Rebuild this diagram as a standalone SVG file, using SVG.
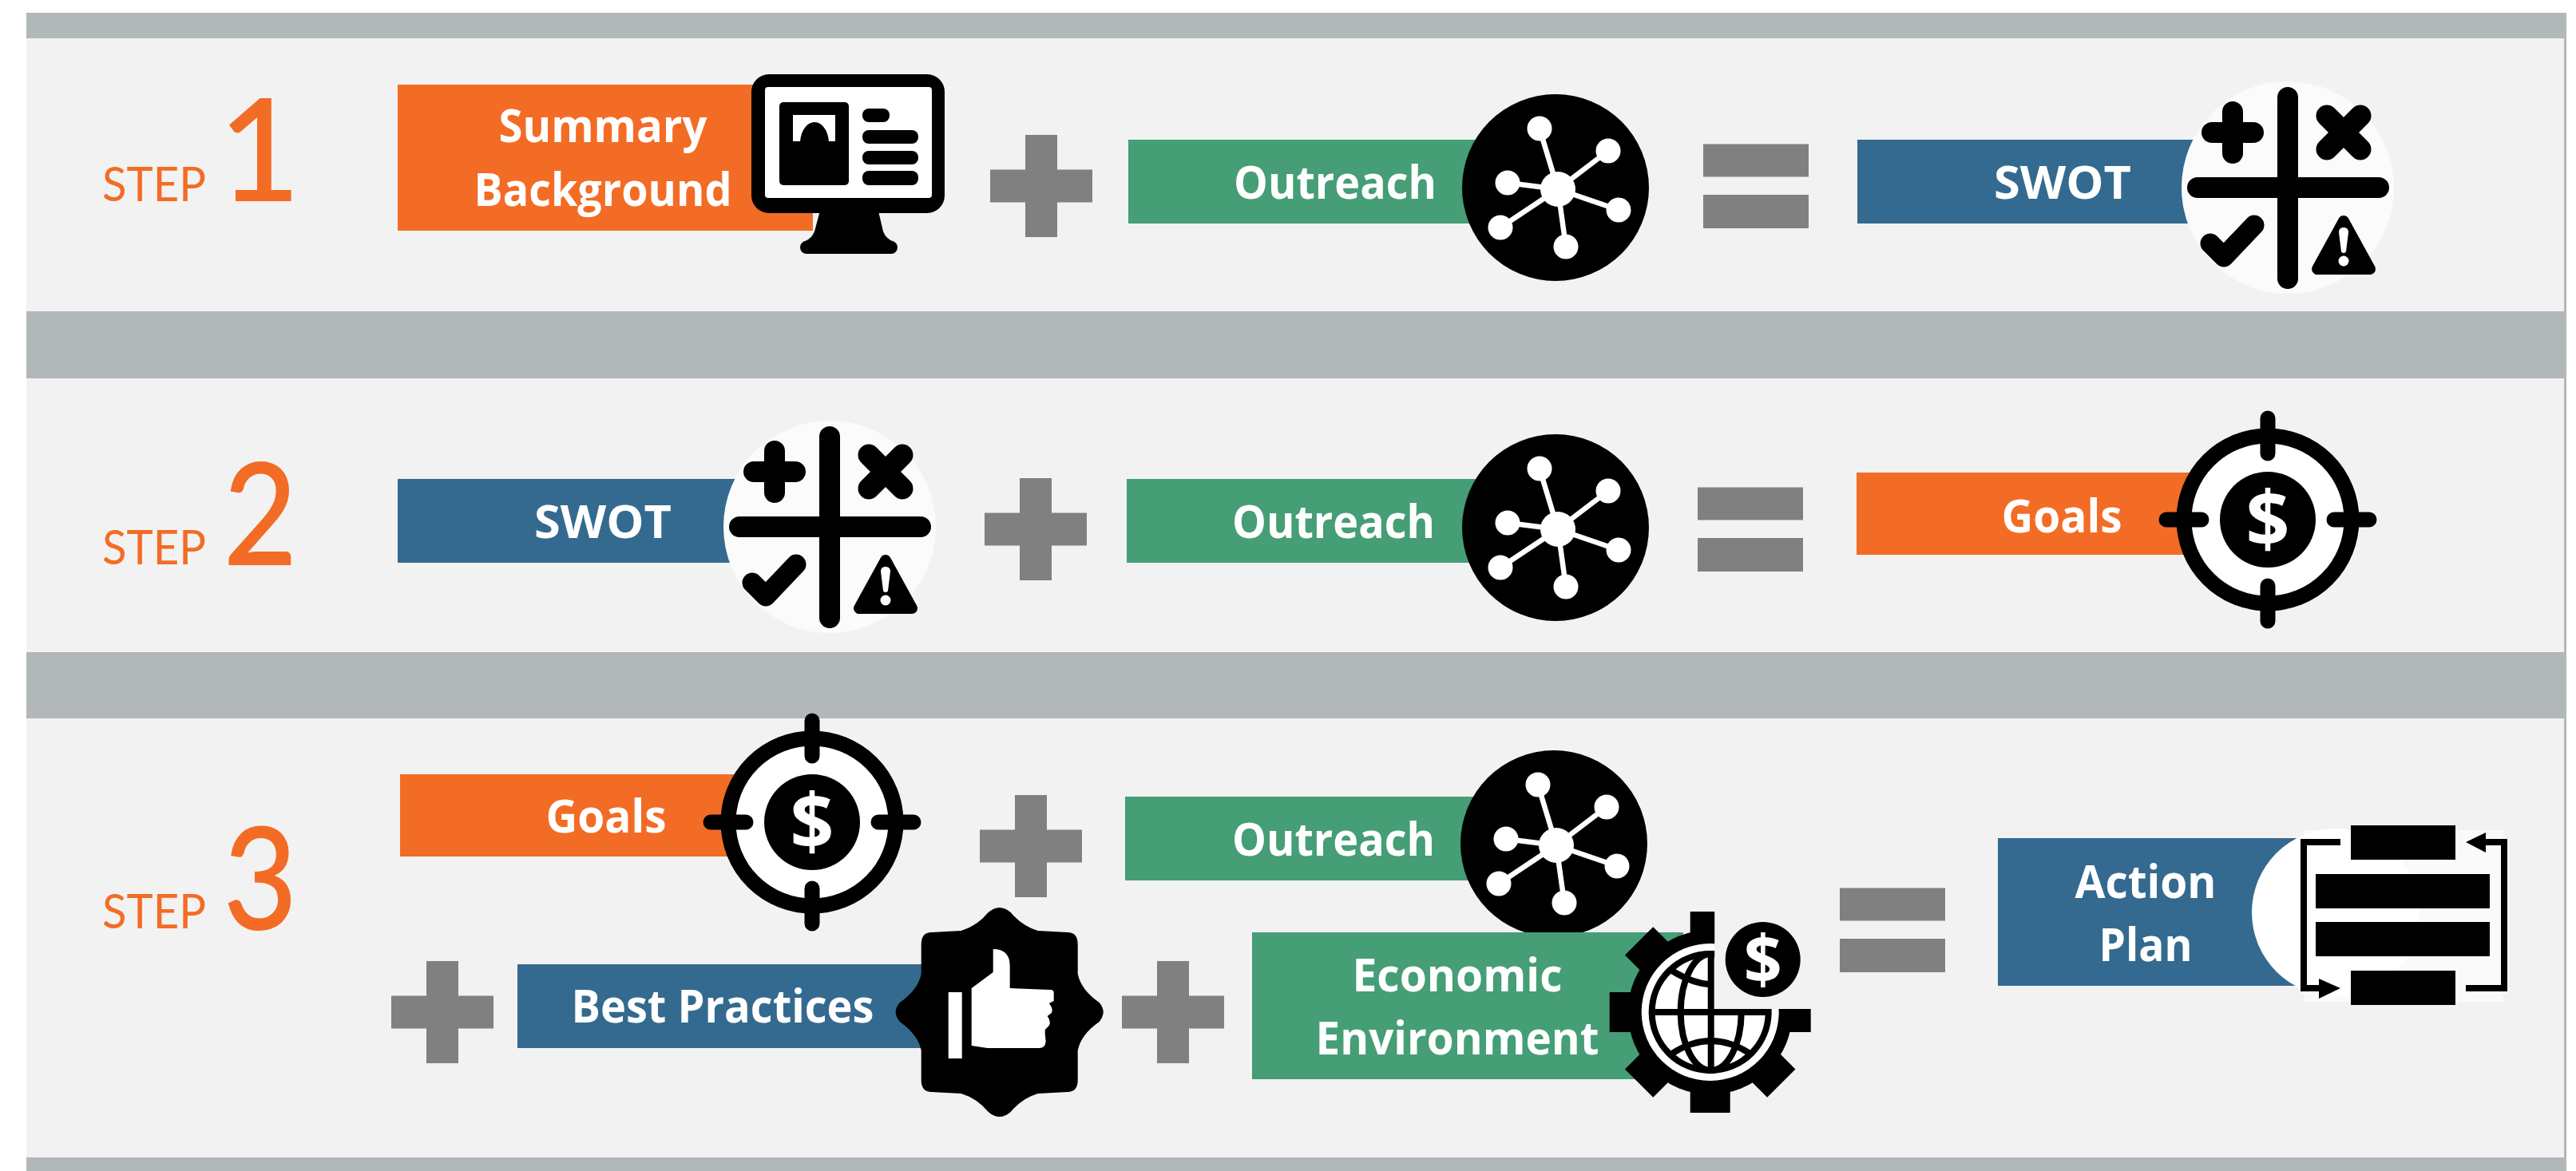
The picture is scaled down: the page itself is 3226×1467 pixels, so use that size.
<svg xmlns="http://www.w3.org/2000/svg" xmlns:xlink="http://www.w3.org/1999/xlink" width="3226" height="1467" viewBox="0 0 3226 1467">
<style>
.band{fill:#b2b7ba}.panel{fill:#f2f2f2}.op{fill:#808080}
.or{fill:#f36c25}.gr{fill:#459e75}.bl{fill:#346a8f}
.lab{font-family:"Open Sans","Liberation Sans",sans-serif;font-weight:700;font-size:58px;fill:#fff;text-anchor:middle}
.st{font-family:Lato,"Liberation Sans",sans-serif;font-size:60px;fill:#f36c25}
.num{font-family:Lato,"Liberation Sans",sans-serif;font-size:176px;fill:#f36c25;stroke:#f36c25;stroke-width:2}
.dollar{font-family:"Open Sans","Liberation Sans",sans-serif;font-weight:700;fill:#fff;text-anchor:middle}
.k{stroke:#000;fill:none}.w{stroke:#fff;fill:none}
</style>
<defs>
<g id="plus"><rect x="-64" y="-20.500" width="128" height="41"/><rect x="-20" y="-64" width="40" height="128"/></g>
<g id="equals"><rect x="-66" y="-52.500" width="132" height="41"/><rect x="-66" y="11" width="132" height="42"/></g>
<g id="net">
<circle r="117" fill="#000"/>
<g class="w" stroke-width="6.500"><path d="M3,2L-20,-74M3,2L66,-46M3,2L-60,-6M3,2L79,28M3,2L-69,50M3,2L13,74"/></g>
<g fill="#fff"><circle cx="3" cy="2" r="22"/><circle cx="-20" cy="-74" r="15.500"/><circle cx="66" cy="-46" r="15.500"/><circle cx="-60" cy="-6" r="15.500"/><circle cx="79" cy="28" r="15.500"/><circle cx="-69" cy="50" r="15.500"/><circle cx="13" cy="74" r="15.500"/></g>
</g>
<g id="swot">
<circle r="133" fill="#fbfbfb"/>
<g class="k" stroke-linecap="round" stroke-linejoin="round">
<path stroke-width="26" d="M0,-113V114M-113,0H114"/>
<path stroke-width="26" d="M-95,-69H-43M-69,-95V-43"/>
<path stroke-width="27" d="M49,-90L91,-48M91,-90L49,-48"/>
<path stroke-width="25" d="M-97,70L-80,87L-42,47"/>
</g>
<path d="M70,42L37,102H103Z" fill="#000" stroke="#000" stroke-width="14" stroke-linejoin="round"/>
<path d="M70,50c3.500,0 6,2 6,6l-3,24c-.4,2.500-5.600,2.500-6,0l-3,-24c0,-4 2.500,-6 6,-6Z" fill="#fff"/>
<circle cx="70" cy="92" r="6.500" fill="#fff"/>
</g>
<g id="target">
<circle r="105" fill="#fff" stroke="#000" stroke-width="19"/>
<circle r="60" fill="#000"/>
<path class="k" stroke-width="19" stroke-linecap="round" d="M-127,0H-83M83,0H127M0,-127V-83M0,83V127"/>
<text class="dollar" y="34" font-size="96">$</text>
</g>
</defs>

<g id="background">
<rect x="33" y="16" width="3181" height="1451" class="band"/>
<rect x="33" y="48" width="3178" height="342" class="panel"/>
<rect x="33" y="474" width="3178" height="343" class="panel"/>
<rect x="33" y="900" width="3178" height="550" class="panel"/>
</g>

<g id="step-1">
<text class="st" x="128" y="252" textLength="130" lengthAdjust="spacingAndGlyphs">STEP</text><text class="num" x="274" y="251">1</text>
</g>
<g id="step-2">
<text class="st" x="128" y="707" textLength="130" lengthAdjust="spacingAndGlyphs">STEP</text><text class="num" x="280" y="707" textLength="92" lengthAdjust="spacingAndGlyphs">2</text>
</g>
<g id="step-3">
<text class="st" x="128" y="1163" textLength="130" lengthAdjust="spacingAndGlyphs">STEP</text><text class="num" x="280" y="1164" textLength="92" lengthAdjust="spacingAndGlyphs">3</text>
</g>

<g id="operators" class="op">
<use xlink:href="#plus" href="#plus" x="1304" y="233"/>
<use xlink:href="#equals" href="#equals" x="2199" y="233"/>
<use xlink:href="#plus" href="#plus" x="1297" y="663"/>
<use xlink:href="#equals" href="#equals" x="2192" y="663"/>
<use xlink:href="#plus" href="#plus" x="1291" y="1060"/>
<use xlink:href="#plus" href="#plus" x="554" y="1268"/>
<use xlink:href="#plus" href="#plus" x="1469" y="1268"/>
<use xlink:href="#equals" href="#equals" x="2370" y="1165"/>
</g>

<g id="summary-background">
<rect class="or" x="498" y="106" width="520" height="183"/>
<text class="lab" x="755" y="178" textLength="261" lengthAdjust="spacingAndGlyphs">Summary</text>
<text class="lab" x="755" y="258" textLength="323" lengthAdjust="spacingAndGlyphs">Background</text>
<path d="M1028,260H1099L1106,290Q1110,300 1120,303H1005Q1016,300 1020,290Z" fill="#000"/>
<rect x="1002" y="302" width="122" height="16" rx="8" fill="#000"/>
<rect x="941" y="93" width="242" height="174" rx="22" fill="#000"/>
<rect x="958" y="109" width="209" height="139" rx="4" fill="#fff"/>
<rect x="976" y="128" width="87" height="104" rx="5" fill="#000"/>
<rect x="993" y="144" width="53" height="33" fill="#fff"/>
<path d="M1002,180C1002,165 1010,153 1020,153C1030,153 1038,165 1038,180Z" fill="#000"/>
<rect x="1080" y="136" width="34" height="17" rx="8" fill="#000"/>
<rect x="1080" y="163" width="70" height="17" rx="8" fill="#000"/>
<rect x="1080" y="189" width="70" height="17" rx="8" fill="#000"/>
<rect x="1080" y="214" width="70" height="18" rx="8" fill="#000"/>
</g>

<g id="outreach-1">
<rect class="gr" x="1413" y="175" width="450" height="105"/>
<text class="lab" x="1672" y="249" textLength="254" lengthAdjust="spacingAndGlyphs">Outreach</text>
<use xlink:href="#net" href="#net" x="1948" y="235"/>
</g>
<g id="swot-1">
<rect class="bl" x="2326" y="175" width="450" height="105"/>
<text class="lab" x="2583" y="249" textLength="172" lengthAdjust="spacingAndGlyphs">SWOT</text>
<use xlink:href="#swot" href="#swot" x="2865" y="235"/>
</g>

<g id="swot-2">
<rect class="bl" x="498" y="600" width="450" height="105"/>
<text class="lab" x="755" y="674" textLength="172" lengthAdjust="spacingAndGlyphs">SWOT</text>
<use xlink:href="#swot" href="#swot" x="1039" y="660"/>
</g>
<g id="outreach-2">
<rect class="gr" x="1411" y="600" width="450" height="105"/>
<text class="lab" x="1670" y="674" textLength="254" lengthAdjust="spacingAndGlyphs">Outreach</text>
<use xlink:href="#net" href="#net" x="1948" y="661"/>
</g>
<g id="goals-2">
<rect class="or" x="2325" y="592" width="450" height="103"/>
<text class="lab" x="2582" y="667" textLength="151" lengthAdjust="spacingAndGlyphs">Goals</text>
<use xlink:href="#target" href="#target" x="2840" y="651"/>
</g>

<g id="goals-3">
<rect class="or" x="501" y="970" width="450" height="103"/>
<text class="lab" x="759" y="1043" textLength="151" lengthAdjust="spacingAndGlyphs">Goals</text>
<use xlink:href="#target" href="#target" x="1017" y="1030"/>
</g>
<g id="outreach-3">
<rect class="gr" x="1409" y="998" width="450" height="105"/>
<text class="lab" x="1670" y="1072" textLength="254" lengthAdjust="spacingAndGlyphs">Outreach</text>
<use xlink:href="#net" href="#net" x="1946" y="1057"/>
</g>
<g id="best-practices">
<rect class="bl" x="648" y="1208" width="520" height="105"/>
<text class="lab" x="905" y="1281" textLength="379" lengthAdjust="spacingAndGlyphs">Best Practices</text>
<g transform="translate(1251.700,1268)">
<path fill="#000" d="M14,-125Q28,-108 48,-102L85,-100Q98,-100 98,-85L98,-48Q102,-28 125,-12Q135,0 125,12Q102,28 98,48L98,85Q98,100 85,100L48,102Q28,108 14,125Q0,137 -14,125Q-28,108 -48,102L-85,100Q-98,100 -98,85L-98,48Q-102,28 -125,12Q-135,0 -125,-12Q-102,-28 -98,-48L-98,-85Q-98,-100 -85,-100L-48,-102Q-28,-108 -14,-125Q0,-137 14,-125Z"/>
<rect x="-64" y="-25" width="17" height="83" fill="#fff"/>
<path fill="#fff" d="M-35,-30L-8,-50V-79Q13,-79 13,-58V-30L64,-28Q68,-28 68,-24V-14L62,-11Q68,-4 65,1L60,5Q65,12 62,17L57,22V27L58,37Q57,45 50,45H-15L-35,42Z"/>
</g>
</g>
<g id="economic-environment">
<rect class="gr" x="1568" y="1168" width="540" height="184"/>
<text class="lab" x="1825" y="1242" textLength="263" lengthAdjust="spacingAndGlyphs">Economic</text>
<text class="lab" x="1825" y="1321" textLength="355" lengthAdjust="spacingAndGlyphs">Environment</text>
<g transform="translate(2141.700,1268)">
<circle r="103" fill="#000"/>
<path fill="#000" d="M-25,-126H25V-90H-25ZM-25,90H25V126H-25ZM-126,-25H-90V25H-126ZM90,-25H126V25H90Z"/>
<path fill="#000" transform="rotate(45)" d="M-25,90H25V126H-25ZM-25,-126H25V-90H-25Z"/>
<path fill="#000" transform="rotate(-45)" d="M-25,90H25V126H-25ZM-25,-126H25V-90H-25Z"/>
<circle r="86" fill="#fff"/>
<circle r="73" class="k" stroke-width="8"/>
<path class="k" stroke-width="8" d="M-73,0H73M1,-73V73"/>
<ellipse cx="1" rx="38" ry="73" class="k" stroke-width="8"/>
<path class="k" stroke-width="8" d="M-48,-52Q-20,-35 1,-35M-48,52Q1,20 50,52"/>
<rect x="5.500" y="-132" width="130" height="128" fill="#f2f2f2"/>
<circle cx="66" cy="-66" r="47" fill="#000"/>
<text class="dollar" x="66" y="-36" font-size="84">$</text>
</g>
</g>
<g id="action-plan">
<rect class="bl" x="2502" y="1050" width="400" height="185"/>
<text class="lab" x="2687" y="1125" textLength="177" lengthAdjust="spacingAndGlyphs">Action</text>
<text class="lab" x="2687" y="1204" textLength="117" lengthAdjust="spacingAndGlyphs">Plan</text>
<circle cx="2925" cy="1143" r="105" fill="#fff"/>
<rect x="2885" y="1040" width="250" height="215" fill="#fff" opacity=".6"/>
<rect x="2944" y="1034" width="131" height="43"/>
<rect x="2900" y="1095" width="218" height="43"/>
<rect x="2900" y="1155" width="218" height="43"/>
<rect x="2944" y="1216" width="131" height="43"/>
<path class="k" stroke-width="8" d="M2931,1055H2885V1238H2910"/>
<path class="k" stroke-width="8" d="M3088,1238H3136V1055H3110"/>
<path d="M2931,1238L2904,1226V1251Z"/>
<path d="M3088,1055L3113,1043V1068Z"/>
</g>
</svg>
